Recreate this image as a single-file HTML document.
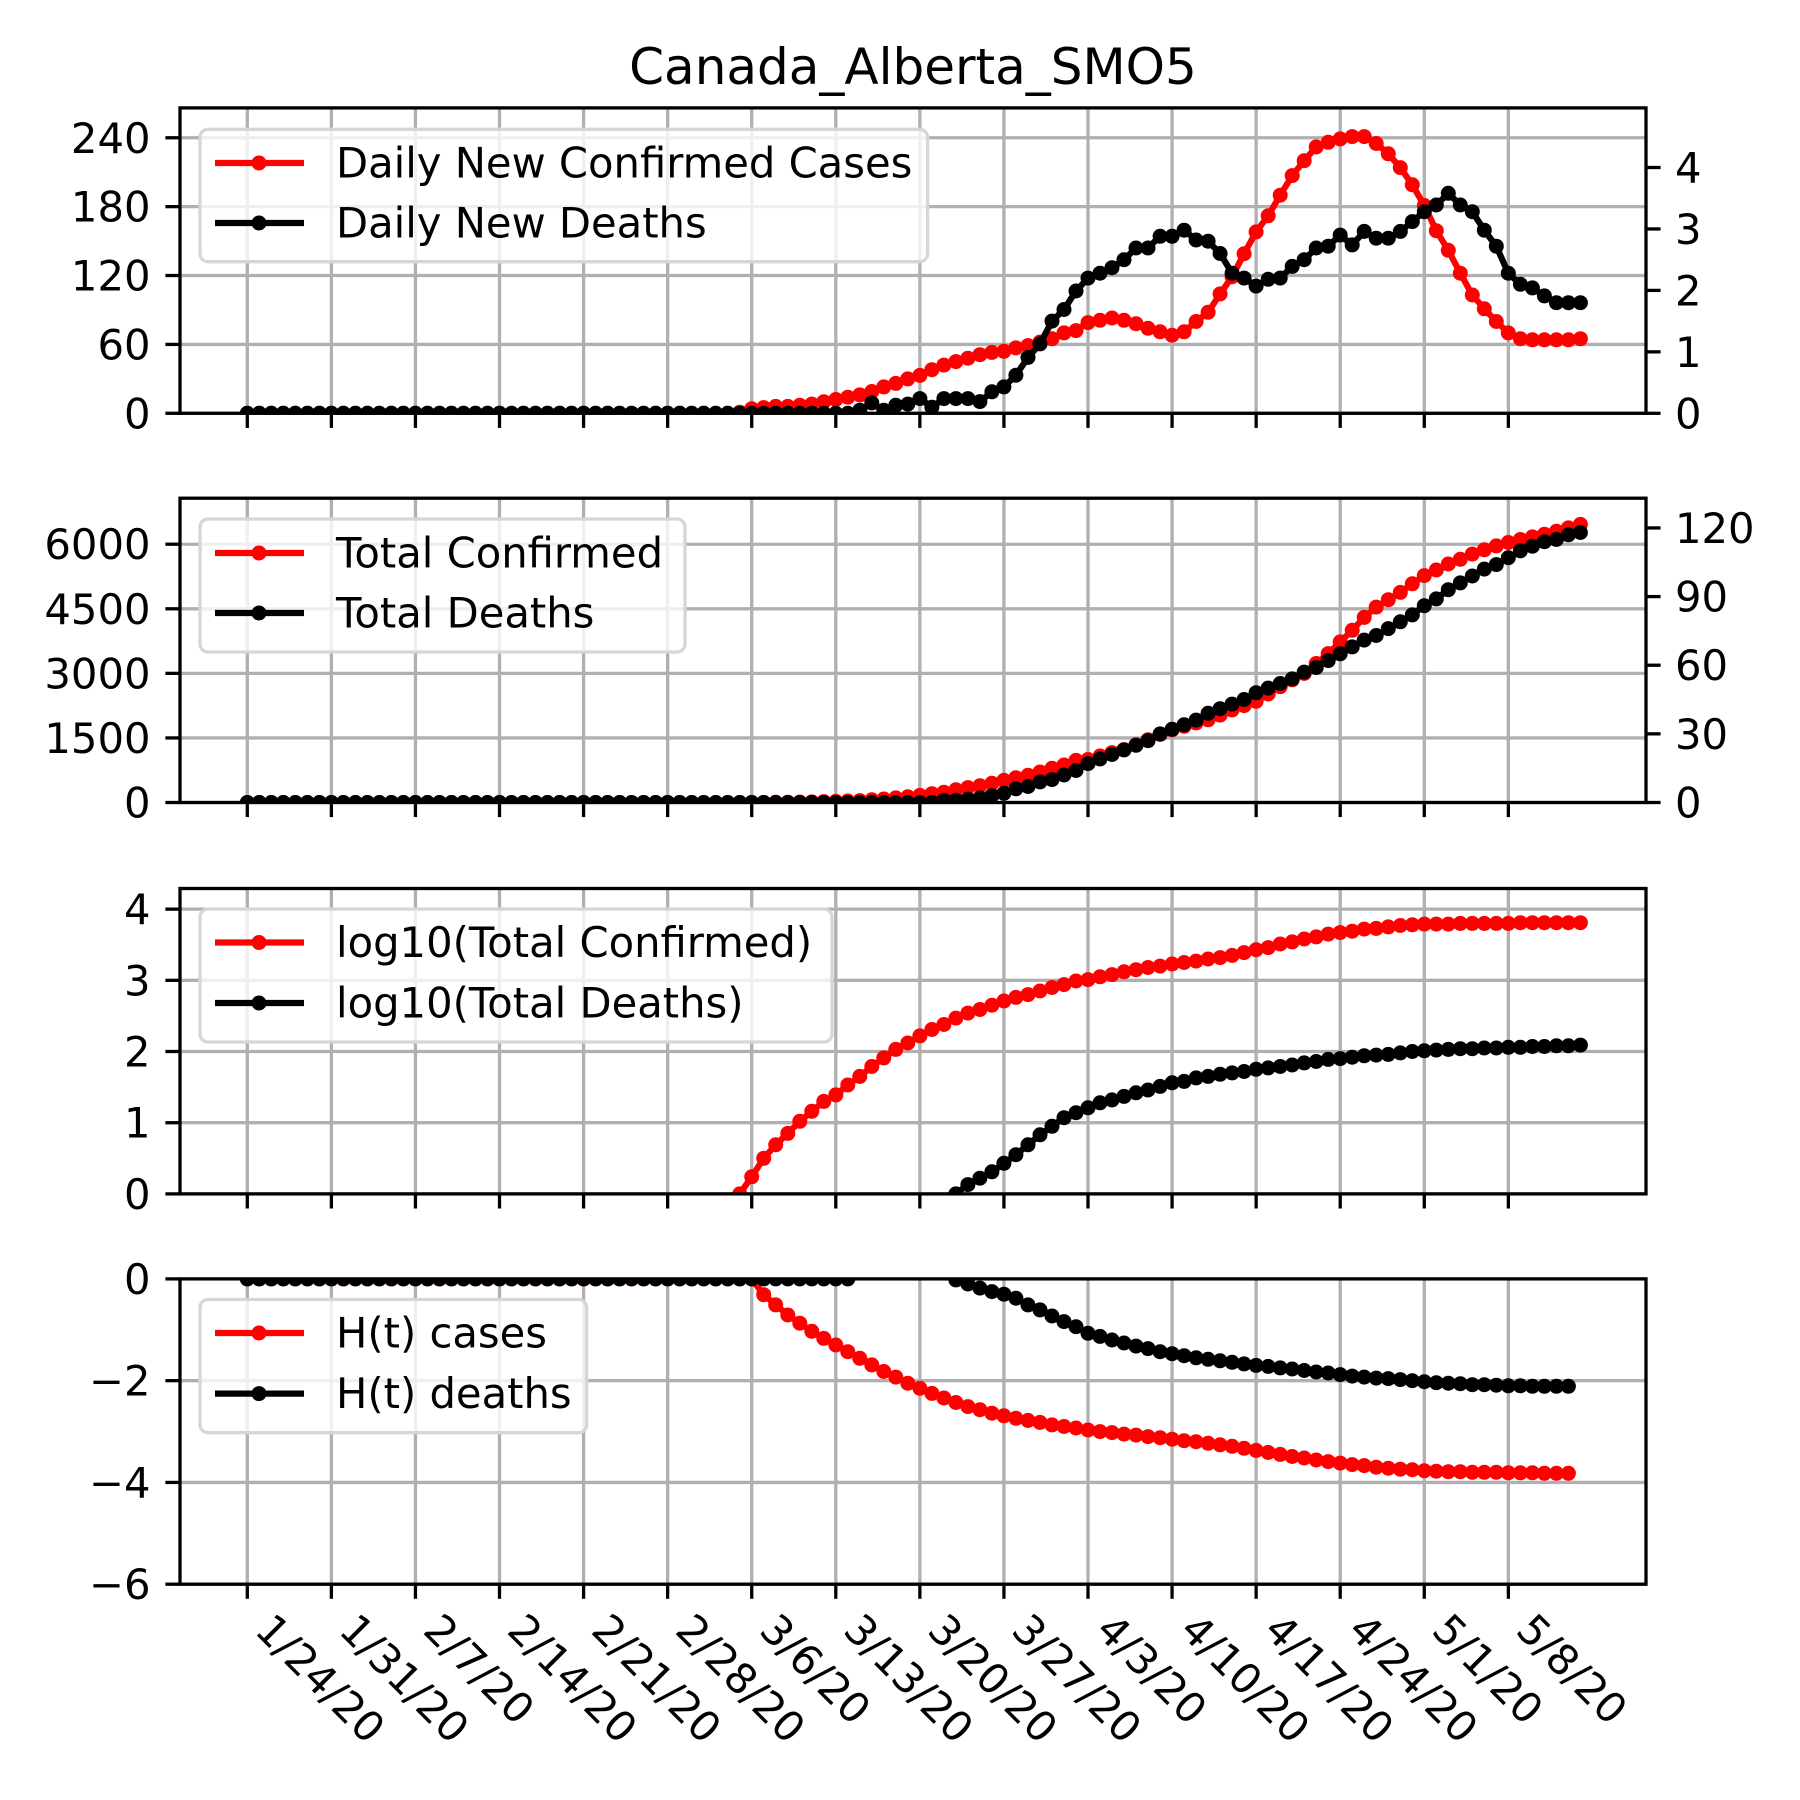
<!DOCTYPE html>
<html><head><meta charset="utf-8"><style>
html,body{margin:0;padding:0;background:#fff;}
svg{display:block;font-family:"DejaVu Sans","Liberation Sans",sans-serif;}
</style></head><body>
<svg id="chart" width="1800" height="1800" viewBox="0 0 1800 1800" xmlns="http://www.w3.org/2000/svg">
<rect width="1800" height="1800" fill="#fff"/>
<text x="913" y="84" font-size="50" text-anchor="middle">Canada_Alberta_SMO5</text>
</svg>
<script>
const dateLabels = ["1/24/20","1/31/20","2/7/20","2/14/20","2/21/20","2/28/20","3/6/20","3/13/20","3/20/20","3/27/20","4/3/20","4/10/20","4/17/20","4/24/20","5/1/20","5/8/20"];
const dailyCases = [0,0,0,0,0,0,0,0,0,0,0,0,0,0,0,0,0,0,0,0,0,0,0,0,0,0,0,0,0,0,0,0,0,0,0,0,0,0,0,0,0,1,
4,5,6,6,7,8,10,12,
14,16,19,23,26,30,33,38,42,45,48,51,53,54,57,59,62,65,70,72,79,81,83,81,78,74,71,68,71,80,88,104,119,139,158,172,190,207,220,232,236,239,241,241,235,226,214,199,181,159,142,122,103,91,80,70,65,64,64,64,64,65];
const dailyDeaths = [0,0,0,0,0,0,0,0,0,0,0,0,0,0,0,0,0,0,0,0,0,0,0,0,0,0,0,0,0,0,0,0,0,0,0,0,0,0,0,0,0,0,0,0,0,0,0,0,0,0,0,
0.05,0.17,0.05,0.13,0.15,0.24,0.1,0.24,0.24,0.24,0.19,0.35,0.43,0.62,0.91,1.13,1.5,1.69,1.99,2.2,2.28,2.37,2.5,2.69,2.69,2.88,2.88,2.98,2.82,2.8,2.6,2.28,2.2,2.07,2.18,2.2,2.39,2.5,2.69,2.72,2.9,2.74,2.96,2.85,2.85,2.96,3.12,3.28,3.39,3.58,3.39,3.28,2.98,2.72,2.28,2.1,2.04,1.91,1.8,1.8,1.8];
const totalCases = [0,0,0,0,0,0,0,0,0,0,0,0,0,0,0,0,0,0,0,0,0,0,0,0,0,0,0,0,0,0,0,0,0,0,0,0,0,0,0,0,0,
1,2,3,5,7,10,14,20,25,34,45,62,81,107,132,166,204,240,295,347,389,447,513,575,631,708,794,871,977,
1000,1080,1160,1230,1340,1460,1580,1690,1770,1850,1920,2030,2150,2250,2350,2520,2690,2850,3000,3230,3460,3730,4000,4300,4540,4710,4880,5080,5270,5400,5540,5650,5770,5870,5960,6040,6110,6170,6230,6300,6380,6460];
const totalDeaths = [0,0,0,0,0,0,0,0,0,0,0,0,0,0,0,0,0,0,0,0,0,0,0,0,0,0,0,0,0,0,0,0,0,0,0,0,0,0,0,0,0,0,0,0,0,0,0,0,0,0,0,0,0,0,0,0,0,0,
1,1,1.5,2,3,4,6,7,9,10,12,14,17,
19,21,23,25,27,30,32,34,36,39,41,43,45,48,50,52,54,57,59,62,65,68,71,73,76,79,82,86,89,93,96,99,102,104,107,110,112,114,115,117,118];
const logCases = [null,null,null,null,null,null,null,null,null,null,null,null,null,null,null,null,null,null,null,null,null,null,null,null,null,null,null,null,null,null,null,null,null,null,null,null,null,null,null,null,null,
0,0.24,0.5,0.69,0.85,1.02,1.16,1.3,1.39,1.53,1.65,1.79,1.91,2.03,2.12,2.22,2.31,2.38,2.47,2.54,2.59,2.65,2.71,2.76,2.8,2.85,2.9,2.94,2.99,3.01,3.05,3.08,3.12,3.15,3.18,3.2,3.23,3.25,3.27,3.3,3.32,3.35,3.39,3.43,3.46,3.51,3.54,3.58,3.61,3.65,3.67,3.69,3.72,3.73,3.75,3.77,3.78,3.79,3.79,3.79,3.8,3.8,3.8,3.8,3.8,3.81,3.81,3.81,3.81,3.81,3.81];
const logDeaths = [null,null,null,null,null,null,null,null,null,null,null,null,null,null,null,null,null,null,null,null,null,null,null,null,null,null,null,null,null,null,null,null,null,null,null,null,null,null,null,null,null,null,null,null,null,null,null,null,null,null,null,null,null,null,null,null,null,null,null,
0,0.13,0.22,0.31,0.43,0.55,0.69,0.83,0.95,1.07,1.14,1.21,1.28,1.32,1.37,1.42,1.46,1.51,1.56,1.58,1.63,1.65,1.68,1.7,1.72,1.75,1.77,1.79,1.81,1.84,1.86,1.89,1.9,1.92,1.94,1.95,1.96,1.98,2.0,2.01,2.02,2.03,2.04,2.04,2.05,2.05,2.06,2.06,2.07,2.07,2.08,2.08,2.09];
const hCases = [0,0,0,0,0,0,0,0,0,0,0,0,0,0,0,0,0,0,0,0,0,0,0,0,0,0,0,0,0,0,0,0,0,0,0,0,0,0,0,0,0,0,0,
-0.31,-0.51,-0.71,-0.87,-1.03,-1.17,-1.30,-1.43,-1.56,-1.69,-1.82,-1.93,-2.05,-2.15,-2.25,-2.34,-2.43,-2.51,-2.57,-2.64,-2.69,-2.74,-2.78,-2.82,-2.87,-2.90,-2.93,-2.97,-3.00,-3.02,-3.05,-3.07,-3.10,-3.12,-3.15,-3.18,-3.20,-3.23,-3.26,-3.29,-3.33,-3.37,-3.41,-3.45,-3.49,-3.52,-3.56,-3.59,-3.62,-3.65,-3.67,-3.70,-3.72,-3.74,-3.75,-3.77,-3.78,-3.79,-3.79,-3.80,-3.80,-3.80,-3.81,-3.81,-3.81,-3.82,-3.82,-3.82,null];
const hDeaths = [0,0,0,0,0,0,0,0,0,0,0,0,0,0,0,0,0,0,0,0,0,0,0,0,0,0,0,0,0,0,0,0,0,0,0,0,0,0,0,0,0,0,0,0,0,0,0,0,0,0,0,
null,null,null,null,null,null,null,null,
-0.02,-0.1,-0.18,-0.25,-0.3,-0.38,-0.51,-0.61,-0.73,-0.84,-0.94,-1.07,-1.13,-1.20,-1.26,-1.32,-1.37,-1.43,-1.47,-1.51,-1.55,-1.58,-1.61,-1.64,-1.67,-1.70,-1.72,-1.75,-1.77,-1.80,-1.83,-1.85,-1.88,-1.91,-1.93,-1.95,-1.96,-1.98,-2.00,-2.02,-2.04,-2.05,-2.06,-2.08,-2.08,-2.09,-2.10,-2.10,-2.11,-2.11,-2.11,-2.11,null];
const p1LeftTicks = [0,60,120,180,240];
const p1RightTicks = [0,1,2,3,4];
const p2LeftTicks = [0,1500,3000,4500,6000];
const p2RightTicks = [0,30,60,90,120];
const p3Ticks = [0,1,2,3,4];
const p4Ticks = [0,-2,-4,-6];

const NS = "http://www.w3.org/2000/svg";
const svg = document.getElementById('chart');
const L = 180, R = 1646;
const MR = 7.5;
const xDay = d => 247.3 + 12.01 * d;
function mk(tag, attrs, parent) {
  const e = document.createElementNS(NS, tag);
  for (const k in attrs) e.setAttribute(k, attrs[k]);
  (parent || svg).appendChild(e);
  return e;
}
function fmt(v){ return v < 0 ? "\u2212" + Math.abs(v) : String(v); }

const panels = [
  {key:'daily', top:107.9, bot:413.3, lmin:0, lmax:266, rmin:0, rmax:4.97, lt:p1LeftTicks, rt:p1RightTicks,
   series:[{d:dailyCases, c:'#ff0000', ax:'l', n:'daily-cases-line'},{d:dailyDeaths, c:'#000', ax:'r', n:'daily-deaths-line'}],
   legend:{top:129.3, right:927.6, bottom:261.7, e:[[163,'#ff0000','Daily New Confirmed Cases'],[223,'#000','Daily New Deaths']]}},
  {key:'total', top:498.2, bot:802.5, lmin:0, lmax:7069, rmin:0, rmax:133, lt:p2LeftTicks, rt:p2RightTicks,
   series:[{d:totalCases, c:'#ff0000', ax:'l', n:'total-confirmed-line'},{d:totalDeaths, c:'#000', ax:'r', n:'total-deaths-line'}],
   legend:{top:519, right:685, bottom:652, e:[[553,'#ff0000','Total Confirmed'],[613,'#000','Total Deaths']]}},
  {key:'log', top:888.5, bot:1193.9, lmin:0, lmax:4.29, lt:p3Ticks,
   series:[{d:logCases, c:'#ff0000', ax:'l', n:'log-confirmed-line'},{d:logDeaths, c:'#000', ax:'l', n:'log-deaths-line'}],
   legend:{top:909, right:832, bottom:1042, e:[[942.5,'#ff0000','log10(Total Confirmed)'],[1003,'#000','log10(Total Deaths)']]}},
  {key:'ht', top:1278.9, bot:1584.2, lmin:-6, lmax:0, lt:p4Ticks,
   series:[{d:hCases, c:'#ff0000', ax:'l', n:'h-cases-line'},{d:hDeaths, c:'#000', ax:'l', n:'h-deaths-line'}],
   legend:{top:1299.5, right:586.6, bottom:1432.7, e:[[1333,'#ff0000','H(t) cases'],[1393.6,'#000','H(t) deaths']]}}
];

panels.forEach((p, pi) => {
  const g = mk('g', {});
  
  
  const yl = v => p.bot - (v - p.lmin) / (p.lmax - p.lmin) * (p.bot - p.top);
  const yr = v => p.bot - (v - p.rmin) / (p.rmax - p.rmin) * (p.bot - p.top);
  const clip = mk('clipPath', {id:'clip' + pi}, g);
  mk('rect', {x:L, y:p.top, width:R-L, height:p.bot-p.top}, clip);
  dateLabels.forEach((lab, i) => {
    const x = xDay(i * 7);
    const gl = mk('line', {x1:x, x2:x, y1:p.top, y2:p.bot, stroke:'#b0b0b0', 'stroke-width':3.3}, g);
    
    
    const tk = mk('line', {x1:x, x2:x, y1:p.bot, y2:p.bot+14.6, stroke:'#000', 'stroke-width':3.3}, g);
    
    
    if (pi === 3) {
      const tx = x + 6, ty = 1632;
      const t = mk('text', {x:tx, y:ty, 'font-size':41.7, transform:'rotate(45 ' + tx + ' ' + ty + ')'}, g);
      t.textContent = lab;
      
      
    }
  });
  p.lt.forEach(v => {
    const y = yl(v);
    const gl = mk('line', {x1:L, x2:R, y1:y, y2:y, stroke:'#b0b0b0', 'stroke-width':3.3}, g);
    
    
    const tk = mk('line', {x1:L-14.6, x2:L, y1:y, y2:y, stroke:'#000', 'stroke-width':3.3}, g);
    
    
    const t = mk('text', {x:150.5, y:y+15, 'font-size':41.7, 'text-anchor':'end'}, g);
    t.textContent = fmt(v);
    
    
  });
  if (p.rt) {
    p.rt.forEach(v => {
      const y = yr(v);
      const tk = mk('line', {x1:R, x2:R+14.6, y1:y, y2:y, stroke:'#000', 'stroke-width':3.3}, g);
      
      
      const t = mk('text', {x:1675, y:y+15, 'font-size':41.7}, g);
      t.textContent = fmt(v);
      
      
    });
  }
  p.series.forEach(s => {
    const sg = mk('g', {'clip-path':'url(#clip' + pi + ')'}, g);
    
    
    const fy = s.ax === 'r' ? yr : yl;
    let dstr = '', pen = false;
    s.d.forEach((v, i) => {
      if (v === null || v === undefined) { pen = false; return; }
      dstr += (pen ? 'L' : 'M') + xDay(i).toFixed(1) + ',' + fy(v).toFixed(1);
      pen = true;
    });
    const path = mk('path', {d:dstr, fill:'none', stroke:s.c, 'stroke-width':6.25, 'stroke-linejoin':'round'}, sg);
    
    
    s.d.forEach((v, i) => {
      if (v === null || v === undefined) return;
      const c = mk('circle', {cx:xDay(i).toFixed(1), cy:fy(v).toFixed(1), r:MR, fill:s.c}, sg);
      
      
    });
  });
  const sp = mk('rect', {x:L, y:p.top, width:R-L, height:p.bot-p.top, fill:'none', stroke:'#000', 'stroke-width':3.3}, g);
  
  
  const lg = mk('g', {}, g);
  
  
  const lb = mk('rect', {x:200, y:p.legend.top, width:p.legend.right-200, height:p.legend.bottom-p.legend.top, rx:8, fill:'rgba(255,255,255,0.8)', stroke:'#d6d6d6', 'stroke-width':3.3}, lg);
  
  
  p.legend.e.forEach(en => {
    const eg = mk('g', {}, lg);
    
    
    mk('line', {x1:215, x2:304, y1:en[0], y2:en[0], stroke:en[1], 'stroke-width':6.25}, eg);
    mk('circle', {cx:259, cy:en[0], r:MR, fill:en[1]}, eg);
    const t = mk('text', {x:336, y:en[0]+14.5, 'font-size':41.7}, eg);
    t.textContent = en[2];
  });
});
</script>
</body></html>
